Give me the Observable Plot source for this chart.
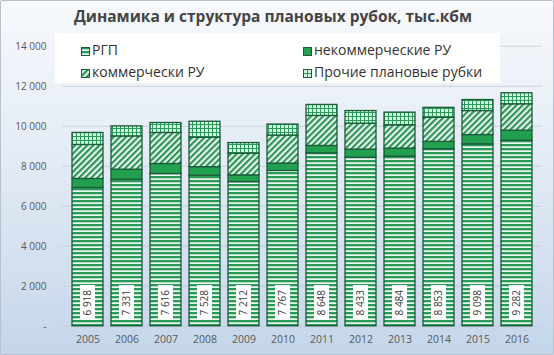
<!DOCTYPE html>
<html><head><meta charset="utf-8">
<script src="https://cdn.jsdelivr.net/npm/d3@7"></script>
<script src="https://cdn.jsdelivr.net/npm/@observablehq/plot@0.6"></script>
<style>
body{margin:0;background:#fff;}
#wrap{position:relative;width:554px;height:355px;background:linear-gradient(#f7f9fc 0%,#e3ebf5 45%,#c5d6ea 100%);overflow:hidden;font-family:"Open Sans",sans-serif;}
#wrap svg.chart{position:absolute;left:0;top:0;}
#title{position:absolute;left:0;top:5px;width:546px;text-align:center;font-weight:bold;font-size:15.5px;color:#454545;white-space:nowrap;}
#legend{position:absolute;left:55px;top:33px;width:445px;height:50px;background:#fff;}
.li{position:absolute;font-size:14px;color:#333;white-space:nowrap;line-height:18px;}
.li svg{vertical-align:-1px;margin-right:2px;}
#frame{position:absolute;left:0;top:0;width:552px;height:353px;border:1px solid #b8c2ce;border-radius:2px;pointer-events:none;}
</style></head><body><div id="wrap"></div>
<script>
const years = [2005,2006,2007,2008,2009,2010,2011,2012,2013,2014,2015,2016];
const rgp = [6918,7331,7616,7528,7212,7767,8648,8433,8484,8853,9098,9282];
const noncomm = [450,500,500,430,335,370,370,400,400,370,465,500];
const comm = [1700,1665,1550,1470,1085,1400,1500,1300,1165,1200,1200,1320];
const other = [600,500,500,800,530,550,550,630,635,500,550,550];
const seriesNames = ["РГП","некоммерческие РУ","коммерчески РУ","Прочие плановые рубки"];
const yTicks = [0,2000,4000,6000,8000,10000,12000,14000];

const seriesValues = [rgp, noncomm, comm, other];
const fills = ["url(#pRgp)","#22a04f","url(#pComm)","url(#pOther)"];
const long = [];
seriesNames.forEach((s,si)=>years.forEach((y,i)=>long.push({year:String(y),series:s,value:seriesValues[si][i]})));
const base = years.map((y,i)=>({year:String(y),rgp:rgp[i]}));
const fmt = v => v===0 ? "-" : d3.format(",")(v).replace(/,/g," ");

const chart = Plot.plot({
  width:554, height:355,
  marginLeft:62, marginRight:12.5, marginTop:45.8, marginBottom:29.2,
  style:{background:"transparent", fontFamily:"'Open Sans',sans-serif"},
  x:{type:"band", domain:years.map(String), padding:0.21, label:null},
  y:{domain:[0,14000], label:null},
  color:{domain:seriesNames, range:fills},
  marks:[
    Plot.gridY(yTicks,{stroke:"#c3ccd8", strokeOpacity:0.8}),
    Plot.axisY(yTicks,{tickSize:0, tickPadding:16, tickFormat:fmt, fontSize:10, fill:"#595959"}),
    Plot.axisX({tickSize:0, tickPadding:9, fontSize:10.5, fill:"#595959"}),
    Plot.barY(long,{x:"year", y:"value", z:"series", fill:"series", order:seriesNames, stroke:"#1b5a3a", strokeWidth:1.3}),
    Plot.barY(base,{x:"year", y1:315, y2:2040, fill:"white", insetLeft:8, insetRight:8}),
    Plot.text(base,{x:"year", y:1180, text:d=>fmt(d.rgp), rotate:-90, fontSize:10, fill:"#404040"})
  ]
});
chart.classList.add("chart");
const defs = `<defs>
<pattern id="pRgp" patternUnits="userSpaceOnUse" width="4" height="4"><rect width="4" height="4" fill="#eaf8ef"/><rect width="4" height="2.3" fill="#2a9a58"/></pattern>
<pattern id="pComm" patternUnits="userSpaceOnUse" width="4.3" height="4.3" patternTransform="rotate(45)"><rect width="4.3" height="4.3" fill="#e2f6ea"/><rect width="2.1" height="4.3" fill="#2e9158"/></pattern>
<pattern id="pOther" patternUnits="userSpaceOnUse" width="4" height="4"><rect width="4" height="4" fill="#d3f2df"/><rect width="4" height="1" fill="#2a9a58"/><rect width="1" height="4" fill="#2a9a58"/></pattern>
</defs>`;
chart.insertAdjacentHTML("afterbegin", defs);

const wrap = document.getElementById("wrap");
wrap.appendChild(chart);
const title = document.createElement("div");
title.id="title"; title.textContent="Динамика и структура плановых рубок, тыс.кбм";
wrap.appendChild(title);
const legend = document.createElement("div"); legend.id="legend";
const pos = [[26,8],[248,8],[26,30],[248,30]];
seriesNames.forEach((s,i)=>{
  const d=document.createElement("div"); d.className="li";
  d.style.left=pos[i][0]+"px"; d.style.top=pos[i][1]+"px";
  d.innerHTML=`<svg width="9" height="9"><rect x="0.5" y="0.5" width="8" height="8" fill="${fills[i]}" stroke="#1b5a3a"/></svg>`;
  d.appendChild(document.createTextNode(s));
  legend.appendChild(d);
});
wrap.appendChild(legend);
const fr=document.createElement("div"); fr.id="frame"; wrap.appendChild(fr);
</script></body></html>
